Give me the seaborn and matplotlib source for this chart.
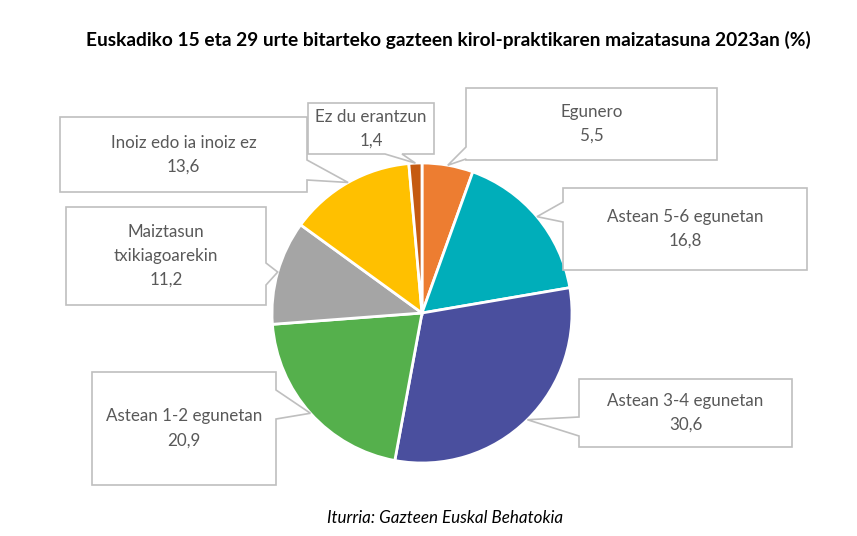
import matplotlib
matplotlib.use("Agg")
import matplotlib.pyplot as plt
from matplotlib.patches import Polygon
import numpy as np
import seaborn as sns

# ---- data ----
categories = ["Egunero", "Astean 5-6 egunetan", "Astean 3-4 egunetan",
              "Astean 1-2 egunetan", "Maiztasun\ntxikiagoarekin",
              "Inoiz edo ia inoiz ez", "Ez du erantzun"]
values = [5.5, 16.8, 30.6, 20.9, 11.2, 13.6, 1.4]
value_labels = ["5,5", "16,8", "30,6", "20,9", "11,2", "13,6", "1,4"]
colors = ["#ED7D31", "#00AEBA", "#4A4F9E", "#55B04C", "#A5A5A5", "#FFC000", "#C55A11"]
title = "Euskadiko 15 eta 29 urte bitarteko gazteen kirol-praktikaren maizatasuna 2023an (%)"
source = "Iturria: Gazteen Euskal Behatokia"

# ---- layout (pixel coordinates, y measured from top) ----
W, H = 857, 536
CX, CY, R = 422, 313, 150
# box: x0, y0, x1, y1, pointer edge, base start, base end
boxes = [
    (466, 88, 717, 160, "left", 147, 159),
    (563, 188, 807, 270, "left", 202, 222),
    (579, 379, 792, 447, "left", 417, 436),
    (92, 372, 276, 485, "right", 390, 419),
    (66, 207, 266, 305, "right", 263, 285),
    (60, 117, 307, 192, "right", 160, 180),
    (308, 103, 434, 154, "bottom", 385, 402),
]

sns.set_theme(style="white")
plt.rcParams["font.family"] = ["Lato", "DejaVu Sans"]

fig = plt.figure(figsize=(W / 100, H / 100), dpi=100)
ax = fig.add_axes([0, 0, 1, 1])
ax.set_xlim(0, W)
ax.set_ylim(0, H)
ax.set_aspect("equal")
ax.axis("off")

def py(y):
    return H - y

wedges, _ = ax.pie(values, colors=colors, startangle=90, counterclock=False,
                   center=(CX, py(CY)), radius=R, frame=True,
                   wedgeprops=dict(edgecolor="white", linewidth=2))
ax.set_xlim(0, W)
ax.set_ylim(0, H)
ax.axis("off")

# mid angles of wedges
cum = np.cumsum([0] + values[:-1])
mids = 90 - (cum + np.array(values) / 2) * 3.6

renderer = fig.canvas.get_renderer()

def fit_size(text, target_w, weight="normal", style="normal", base=12):
    t = fig.text(0, 0, text, fontsize=base, fontweight=weight, fontstyle=style)
    w = t.get_window_extent(renderer).width
    t.remove()
    return base * target_w / w

label_fs = fit_size("Astean 5-6 egunetan", 156)
line_h = 24

for i, (x0, y0, x1, y1, edge, a, b) in enumerate(boxes):
    ang = np.deg2rad(mids[i])
    tip = (CX + R * np.cos(ang), CY - R * np.sin(ang))
    tl, tr, br, bl = (x0, y0), (x1, y0), (x1, y1), (x0, y1)
    pts = [tl]
    if edge == "top":
        pts += [(a, y0), tip, (b, y0)]
    pts.append(tr)
    if edge == "right":
        pts += [(x1, a), tip, (x1, b)]
    pts.append(br)
    if edge == "bottom":
        pts += [(b, y1), tip, (a, y1)]
    pts.append(bl)
    if edge == "left":
        pts += [(x0, b), tip, (x0, a)]
    poly = Polygon([(x, py(y)) for x, y in pts], closed=True, facecolor="white",
                   edgecolor="#BFBFBF", linewidth=1.2, zorder=5)
    ax.add_patch(poly)
    lines = categories[i].split("\n") + [value_labels[i]]
    n = len(lines)
    cxb, cyb = (x0 + x1) / 2, (y0 + y1) / 2
    for k, ln in enumerate(lines):
        yk = cyb + (k - (n - 1) / 2) * line_h
        ax.text(cxb, py(yk), ln, ha="center", va="center", fontsize=label_fs,
                color="#595959", zorder=6)

title_fs = fit_size(title, 723, weight="bold")
fig.text(448 / W, 1 - 40 / H, title, ha="center", va="center", fontsize=title_fs,
         fontweight="bold", color="black")
src_fs = fit_size(source, 236, style="italic")
fig.text(445 / W, 1 - 518 / H, source, ha="center", va="center", fontsize=src_fs,
         fontstyle="italic", color="black")

fig.savefig("out.png", dpi=100)
